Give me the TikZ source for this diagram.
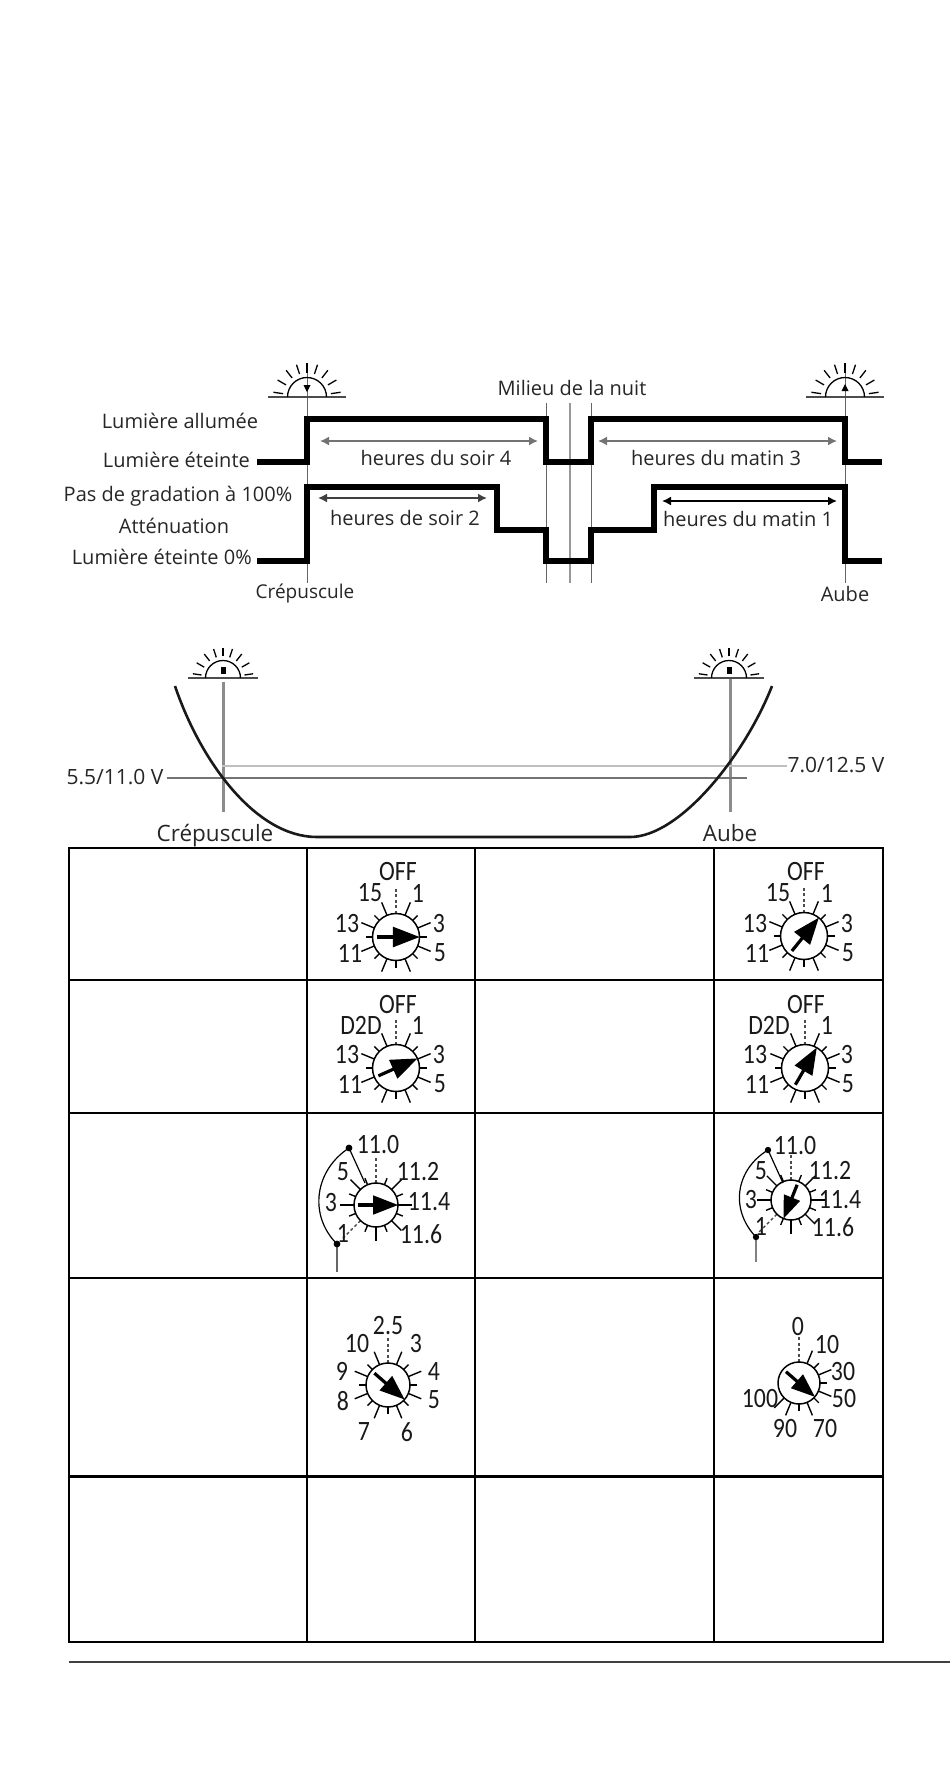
\documentclass[tikz,border=0pt]{standalone}
\usepackage{fontspec}
\setmainfont{Open Sans}
\newfontfamily\dialfont[FakeStretch=0.85]{Carlito}
\usetikzlibrary{arrows.meta}

\tikzset{
	lbl/.style={inner sep=0pt, font=\fontsize{20}{24}\selectfont, text=black!85},
	volt/.style={inner sep=0pt, font=\fontsize{21}{25}\selectfont, text=black!85},
	big/.style={inner sep=0pt, font=\fontsize{22.5}{27}\selectfont, text=black!85},
	num/.style={inner sep=0pt, font=\dialfont\fontsize{28}{32}\selectfont, text=black!90},
	wave/.style={line width=6pt, miter limit=2},
	span/.style={line width=1.6pt, {Latex[length=9pt,width=9pt]}-{Latex[length=9pt,width=9pt]}},
	marker/.style={line width=1pt, black!60},
	disc/.style={circle, draw, line width=1.5pt, fill=white, inner sep=0pt},
	tick/.style={line width=1.4pt},
	frame/.style={line width=2.2pt}
}

% sunrise symbol: name, x, y, half width, mark
\newcommand{\sunrise}[5]{
	\begin{scope}[shift={(#2,#3)}, y=1pt]
		\coordinate (#1) at (0,0);
		\draw[line width=1.8pt, black!70] ({-#4},0) -- (#4,0);
		\draw[line width=1.3pt] ({-0.5*#4},0) arc (180:0:{0.5*#4});
		\foreach \a in {8,30,52,72,90,108,128,150,172}
			\draw[line width=1.3pt] (\a:{0.62*#4}) -- (\a:{0.87*#4});
		#5
	\end{scope}
}

% dial: name, x, y, radius, arrow angle, long ticks, short ticks, dotted ticks
\newcommand{\dialface}[8]{
	\begin{scope}[shift={(#2,#3)}, y=1pt]
		\foreach \a in {#6} \draw[tick] (\a:#4) -- (\a:{#4+14});
		\foreach \a in {#7} \draw[tick] (\a:#4) -- (\a:{#4+7});
		\foreach \a in {#8} \draw[tick, dash pattern=on 3pt off 2.5pt, black!70] (\a:#4) -- (\a:{#4+27});
		\node [disc, minimum size=#4*2pt] (#1) at (0,0) {};
		\begin{scope}[rotate=#5]
			\draw[line width=3.2pt] ({-0.82*#4},0) -- (0,0);
			\fill ({-0.13*#4},{0.44*#4}) -- ({#4},0) -- ({-0.13*#4},{-0.44*#4}) -- cycle;
		\end{scope}
	\end{scope}
}

\begin{document}
\begin{tikzpicture}[x=1pt, y=-1pt]
	\useasboundingbox (0,0) rectangle (950,1770);

	% top timing chart
	\draw[marker] (307,363) -- (307,583);
	\draw[marker] (845,363) -- (845,583);
	\draw[marker] (546,403) -- (546,583);
	\draw[marker, line width=2.4pt, black!40] (570,403) -- (570,583);
	\draw[marker] (591,403) -- (591,583);
	\sunrise{sunA}{307}{397}{39}{\fill (-3.5,12) -- (3.5,12) -- (0,5) -- cycle;}
	\sunrise{sunB}{845}{397}{39}{\fill (-3.5,6) -- (3.5,6) -- (0,13) -- cycle;}
	\draw[wave] (257,462) -- (307,462) -- (307,419) -- (546,419) -- (546,462) -- (591,462) -- (591,419) -- (845,419) -- (845,462) -- (882,462);
	\draw[wave] (257,561) -- (307,561) -- (307,487) -- (497,487) -- (497,530) -- (546,530) -- (546,561) -- (591,561) -- (591,530) -- (654,530) -- (654,487) -- (845,487) -- (845,561) -- (882,561);
	\draw[span, black!55] (320,441) -- (538,441);
	\draw[span, black!55] (598,441) -- (837,441);
	\draw[span, black!75] (318,498) -- (487,498);
	\draw[span] (662,501) -- (837,501);

	\node [lbl] (allumee) at (180,421) {Lumière allumée};
	\node [lbl, anchor=east] (eteinte) at (250,460) {Lumière éteinte};
	\node [lbl] (gradation) at (178,496) {Pas de gradation à 100\%};
	\node [lbl] (attenuation) at (174,526) {Atténuation};
	\node [lbl, anchor=east] (eteintezero) at (252,557) {Lumière éteinte 0\%};
	\node [lbl, font=\fontsize{19}{23}\selectfont] (crepA) at (305,593) {Crépuscule};
	\node [lbl] (milieu) at (572,388) {Milieu de la nuit};
	\node [lbl] (aubeA) at (845,594) {Aube};
	\node [lbl] (soirquatre) at (436,458) {heures du soir 4};
	\node [lbl] (matintrois) at (716,458) {heures du matin 3};
	\node [lbl] (soirdeux) at (405,518) {heures de soir 2};
	\node [lbl] (matinun) at (748,519) {heures du matin 1};

	% photocell curve
	\draw[line width=3pt, black!45] (223,682) -- (223,812);
	\draw[line width=3pt, black!45] (730,678) -- (730,812);
	\draw[line width=2.4pt, black!55] (167,778) -- (747,778);
	\draw[line width=2.4pt, black!25] (222,766) -- (787,766);
	\sunrise{sunC}{223}{678}{35}{\fill (-2.5,4) rectangle (2.5,11);}
	\sunrise{sunD}{729}{678}{35}{\fill (-2.5,4) rectangle (2.5,11);}
	\draw[line width=2.6pt, black!90] (175,686) .. controls (200,760) and (255,837) .. (317,837) -- (630,837) .. controls (680,837) and (745,755) .. (772,686);

	\node [volt] (volta) at (115,777) {5.5/11.0 V};
	\node [volt] (voltb) at (836,765) {7.0/12.5 V};
	\node [big] (crepB) at (215,836) {Crépuscule};
	\node [big] (aubeB) at (730,833) {Aube};

	% table
	\draw[frame] (69,848) rectangle (883,1642);
	\draw[frame] (307,848) -- (307,1642);
	\draw[frame] (475,848) -- (475,1642);
	\draw[frame] (714,848) -- (714,1642);
	\draw[frame] (69,980) -- (883,980);
	\draw[frame] (69,1113) -- (883,1113);
	\draw[frame] (69,1278) -- (883,1278);
	\draw[frame, line width=3pt] (69,1476) -- (883,1476);
	\draw[line width=2.4pt, black!75] (69,1662) -- (950,1662);

	% first row dials
	\dialface{dialA}{396}{937}{23.5}{0}{67.5,22.5,-22.5,-67.5,-112.5,-157.5,157.5,112.5}{45,0,-45,-90,-135,180,135}{90}
	\dialface{dialB}{804}{936}{23.5}{51}{67.5,22.5,-22.5,-67.5,-112.5,-157.5,157.5,112.5}{45,0,-45,-90,-135,180,135}{90}
	\node [num] (aoff) at (398,871) {OFF};
	\node [num] (afifteen) at (370,893) {15};
	\node [num] (aone) at (418,893) {1};
	\node [num] (athirteen) at (347,923) {13};
	\node [num] (athree) at (439,923) {3};
	\node [num] (aeleven) at (350,953) {11};
	\node [num] (afive) at (440,953) {5};
	\node [num] (boff) at (806,871) {OFF};
	\node [num] (bfifteen) at (778,893) {15};
	\node [num] (bone) at (827,893) {1};
	\node [num] (bthirteen) at (755,923) {13};
	\node [num] (bthree) at (847,923) {3};
	\node [num] (beleven) at (757,953) {11};
	\node [num] (bfive) at (848,953) {5};

	% second row dials
	\dialface{dialC}{396}{1068}{23.5}{24}{67.5,22.5,-22.5,-67.5,-112.5,-157.5,157.5,112.5}{45,0,-45,-90,-135,180,135}{90}
	\dialface{dialD}{805}{1068}{23.5}{60}{67.5,22.5,-22.5,-67.5,-112.5,-157.5,157.5,112.5}{45,0,-45,-90,-135,180,135}{90}
	\node [num] (coff) at (398,1004) {OFF};
	\node [num] (ctwo) at (361,1025) {D2D};
	\node [num] (cone) at (418,1025) {1};
	\node [num] (cthirteen) at (347,1054) {13};
	\node [num] (cthree) at (439,1054) {3};
	\node [num] (celeven) at (350,1084) {11};
	\node [num] (cfive) at (440,1084) {5};
	\node [num] (doff) at (806,1004) {OFF};
	\node [num] (dtwo) at (769,1025) {D2D};
	\node [num] (done) at (827,1025) {1};
	\node [num] (dthirteen) at (755,1054) {13};
	\node [num] (dthree) at (847,1054) {3};
	\node [num] (deleven) at (757,1084) {11};
	\node [num] (dfive) at (848,1084) {5};

	% third row dials
	\dialface{dialE}{376}{1205}{22}{0}{45,0,-45,-90,180,135}{67.5,22.5,-22.5,-67.5,-112.5,-157.5,157.5,112.5}{90,-135}
	\dialface{dialF}{791}{1200}{20}{-112}{45,0,-45,-90,180,135}{67.5,22.5,-22.5,-67.5,-112.5,-157.5,157.5,112.5}{90,-135}
	\draw[line width=1.2pt] (349,1148) -- (365,1183);
	\draw[line width=1.2pt] (349,1148) .. controls (315,1170) and (308,1215) .. (337,1244);
	\draw[line width=2.6pt, black!60] (337,1244) -- (337,1272);
	\fill (349,1148) circle (3.4);
	\fill (337,1244) circle (3.4);
	\draw[line width=1.2pt] (768,1150) -- (783,1183);
	\draw[line width=1.2pt] (768,1150) .. controls (735,1170) and (730,1210) .. (756,1237);
	\draw[line width=2.6pt, black!50] (756,1237) -- (756,1262);
	\fill (768,1150) circle (3.2);
	\fill (756,1237) circle (3.2);
	\node [num] (ezero) at (378,1145) {11.0};
	\node [num] (etwo) at (418,1172) {11.2};
	\node [num] (efour) at (429,1202) {11.4};
	\node [num] (esix) at (421,1234) {11.6};
	\node [num] (efive) at (343,1172) {5};
	\node [num] (ethree) at (331,1202) {3};
	\node [num] (eone) at (343,1233) {1};
	\node [num] (fzero) at (795,1146) {11.0};
	\node [num] (ftwo) at (830,1171) {11.2};
	\node [num] (ffour) at (840,1200) {11.4};
	\node [num] (fsix) at (833,1227) {11.6};
	\node [num] (ffive) at (761,1171) {5};
	\node [num] (fthree) at (751,1199) {3};
	\node [num] (fone) at (761,1226) {1};

	% fourth row dials
	\dialface{dialG}{388}{1385}{22}{-41}{67.5,22.5,-22.5,-67.5,-112.5,-157.5,157.5,112.5}{45,0,-45,-90,-135,180,135}{90}
	\dialface{dialH}{799}{1383}{21}{-41}{67.5,22.5,-22.5,-67.5,-112.5,-135}{45,0,-45,-90}{90}
	\node [num] (gtwofive) at (388,1326) {2.5};
	\node [num] (gthree) at (416,1343) {3};
	\node [num] (gfour) at (434,1371) {4};
	\node [num] (gfive) at (434,1400) {5};
	\node [num] (gsix) at (407,1432) {6};
	\node [num] (gseven) at (364,1431) {7};
	\node [num] (geight) at (343,1401) {8};
	\node [num] (gnine) at (342,1371) {9};
	\node [num] (gten) at (357,1343) {10};
	\node [num] (hzero) at (798,1326) {0};
	\node [num] (hten) at (827,1344) {10};
	\node [num] (hthirty) at (843,1371) {30};
	\node [num] (hfifty) at (844,1398) {50};
	\node [num] (hseventy) at (825,1428) {70};
	\node [num] (hninety) at (785,1428) {90};
	\node [num] (hhundred) at (760,1398) {100};
\end{tikzpicture}
\end{document}
